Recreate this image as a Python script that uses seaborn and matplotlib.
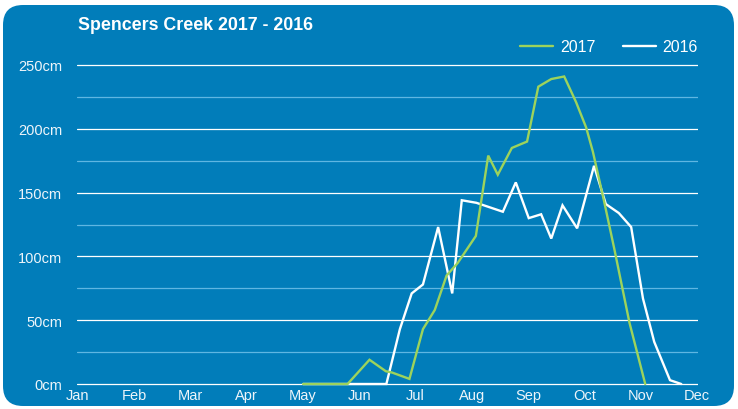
import matplotlib
matplotlib.use("Agg")
import matplotlib.pyplot as plt
import numpy as np
import pandas as pd
import seaborn as sns
from matplotlib.patches import FancyBboxPatch
from matplotlib.lines import Line2D

# ---------------- data ----------------
months = ["Jan", "Feb", "Mar", "Apr", "May", "Jun",
          "Jul", "Aug", "Sep", "Oct", "Nov", "Dec"]
y_ticks = [0, 50, 100, 150, 200, 250]
y_labels = ["0cm", "50cm", "100cm", "150cm", "200cm", "250cm"]

series_names = ["2017", "2016"]

# x positions in month units (Jan = 0 ... Dec = 11), depth in cm
month_2017 = [4.00, 4.79, 5.18, 5.47, 5.58, 5.89, 6.13, 6.34, 6.55, 6.75,
              7.07, 7.29, 7.46, 7.71, 7.98, 8.18, 8.41, 8.64, 8.85, 9.03,
              9.15, 9.34, 9.53, 9.80, 10.08]
depth_2017 = [0, 0, 19, 10, 9, 4, 43, 58, 85, 95,
              116, 179, 164, 185, 190, 233, 239, 241, 221, 201,
              182, 145, 106, 48, 0]

month_2016 = [4.00, 5.48, 5.72, 5.93, 6.13, 6.40, 6.65, 6.82, 7.08, 7.55,
              7.78, 8.01, 8.23, 8.41, 8.61, 8.87, 9.17, 9.38, 9.61, 9.83,
              10.04, 10.24, 10.52, 10.72]
depth_2016 = [0, 0, 43, 71, 78, 123, 71, 144, 142, 135,
              158, 130, 133, 114, 140, 122, 171, 141, 134, 123,
              67, 33, 3, 0]

df = pd.concat([
    pd.DataFrame({"month": month_2017, "depth": depth_2017, "year": "2017"}),
    pd.DataFrame({"month": month_2016, "depth": depth_2016, "year": "2016"}),
], ignore_index=True)

# ---------------- style ----------------
BLUE = "#017DBA"
MINOR = "#5FB6E2"
GREEN = "#9DD35C"
WHITE = "#FFFFFF"
palette = {"2017": GREEN, "2016": WHITE}

sns.set_theme(style="white")
plt.rcParams["font.family"] = ["Liberation Sans", "DejaVu Sans"]

W, H = 738, 410
fig = plt.figure(figsize=(W / 100, H / 100), dpi=100, facecolor="white")

bg = FancyBboxPatch((0.03, 0.03), 7.31, 4.01,
                    boxstyle="round,pad=0,rounding_size=0.2",
                    transform=fig.dpi_scale_trans,
                    facecolor=BLUE, edgecolor="none", zorder=-10)
fig.add_artist(bg)

# axes: x 0 -> 78px, 11 -> 697px ; y 0 -> 385px, 250 -> 66px
px_per_month = (697 - 78) / 11
px_per_cm = (385 - 66) / 250
left_px, right_px = 77, 698
top_px, bot_px = 64, 388
ax = fig.add_axes([left_px / W, (H - bot_px) / H,
                   (right_px - left_px) / W, (bot_px - top_px) / H])
ax.set_facecolor("none")
ax.set_xlim(-(78 - left_px) / px_per_month, 11 + (right_px - 697) / px_per_month)
ax.set_ylim(-(bot_px - 385) / px_per_cm, 250 + (66 - top_px) / px_per_cm)

for s in ax.spines.values():
    s.set_visible(False)

ax.set_yticks(y_ticks)
ax.set_yticklabels(y_labels)
ax.set_yticks([25, 75, 125, 175, 225], minor=True)
ax.set_xticks(range(len(months)))
ax.set_xticklabels(months)

ax.grid(False)
ax.yaxis.grid(True, which="major", color=WHITE, linewidth=0.9)
ax.yaxis.grid(True, which="minor", color=MINOR, linewidth=0.9)
ax.set_axisbelow(True)

ax.tick_params(axis="y", which="both", length=0, pad=10.5,
               labelsize=10.5, labelcolor="#EEF5FA")
ax.tick_params(axis="x", which="both", length=0, pad=1.0,
               labelsize=10.5, labelcolor="#EEF5FA")

sns.lineplot(data=df, x="month", y="depth", hue="year",
             hue_order=["2016", "2017"], palette=palette,
             estimator=None, sort=False, linewidth=1.7,
             legend=False, ax=ax)
for ln in ax.lines:
    ln.set_clip_on(False)
    ln.set_solid_joinstyle("miter")

ax.set_xlabel("")
ax.set_ylabel("")

fig.text(78 / W, 1 - 30 / H, "Spencers Creek 2017 - 2016",
         ha="left", va="baseline", fontsize=12.8, fontweight="bold",
         color=WHITE)

handles = [Line2D([], [], color=palette[n], linewidth=1.7) for n in series_names]
fig.legend(handles, series_names, loc="center right",
           bbox_to_anchor=(698 / W, 1 - 48 / H), ncol=2, frameon=False,
           fontsize=11.5, labelcolor=WHITE, handlelength=2.05,
           handletextpad=0.42, columnspacing=1.75, borderaxespad=0,
           borderpad=0)

fig.savefig("out.png", dpi=100, facecolor="white")
